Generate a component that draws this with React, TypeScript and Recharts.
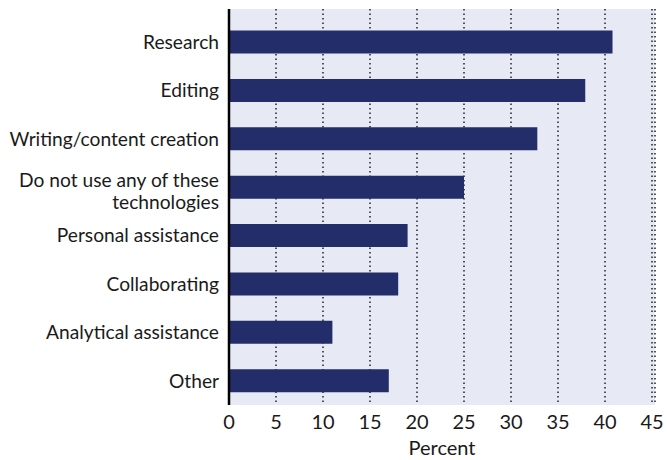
import React from 'react';
import { BarChart, Bar, XAxis, YAxis, CartesianGrid, ReferenceLine } from 'recharts';

const categories = [
  'Research',
  'Editing',
  'Writing/content creation',
  'Do not use any of these technologies',
  'Personal assistance',
  'Collaborating',
  'Analytical assistance',
  'Other',
];
const percents = [40.8, 37.9, 32.8, 25, 19, 18, 11, 17];
const xTicks = [0, 5, 10, 15, 20, 25, 30, 35, 40, 45];

const data = categories.map((c, i) => ({ category: c, value: percents[i] }));

const FONT = 'Lato, "Open Sans", sans-serif';

function wrap(label: string, max: number): string[] {
  const words = label.split(' ');
  const lines: string[] = [];
  let cur = '';
  for (const w of words) {
    const next = cur ? cur + ' ' + w : w;
    if (next.length > max && cur) {
      lines.push(cur);
      cur = w;
    } else {
      cur = next;
    }
  }
  if (cur) lines.push(cur);
  return lines;
}

const YTick = (props: any) => {
  const { x, y, payload } = props;
  const lines = wrap(String(payload.value), 24);
  const lh = 21.5;
  const start = -((lines.length - 1) * lh) / 2 + (lines.length > 1 ? 4 : 0);
  return (
    <text x={x} y={y} textAnchor="end" fill="#1a1a1a" fontFamily={FONT} fontSize={19.2}>
      {lines.map((l, i) => (
        <tspan key={i} x={x} y={y + start + i * lh} dy="0.35em">
          {l}
        </tspan>
      ))}
    </text>
  );
};

export default function App() {
  return (
    <div style={{ position: 'absolute', left: 0, top: 0, background: '#fff' }}>
      <BarChart
        width={667}
        height={460}
        data={data}
        layout="vertical"
        margin={{ top: 9, right: 12, left: 0, bottom: 0 }}
        barCategoryGap="26%"
      >
        <CartesianGrid
          horizontal={false}
          vertical={true}
          fill="#e7eaf5"
          fillOpacity={1}
          stroke="#222"
          strokeDasharray="1.5 3"
          strokeWidth={1.5}
        />
        <XAxis
          type="number"
          domain={[0, 45]}
          ticks={xTicks}
          interval={0}
          padding={{ left: 0, right: 3 }}
          axisLine={false}
          tickLine={false}
          tickMargin={4}
          tick={{ fill: '#1a1a1a', fontFamily: FONT, fontSize: 20 }}
          height={55}
          label={{ value: 'Percent', position: 'insideBottom', offset: 5, fill: '#1a1a1a', fontFamily: FONT, fontSize: 20 }}
        />
        <YAxis
          type="category"
          dataKey="category"
          width={229}
          axisLine={false}
          tickLine={false}
          tick={<YTick />}
          tickMargin={4}
          interval={0}
          padding={{ top: 9, bottom: 0 }}
        />
        <ReferenceLine x={0} stroke="#000" strokeWidth={2.5} segment={[{ x: 0, y: 'Research' }, { x: 0, y: 'Other' }]} ifOverflow="visible" />
        <Bar dataKey="value" fill="#232d69" isAnimationActive={false} />
      </BarChart>
    </div>
  );
}
